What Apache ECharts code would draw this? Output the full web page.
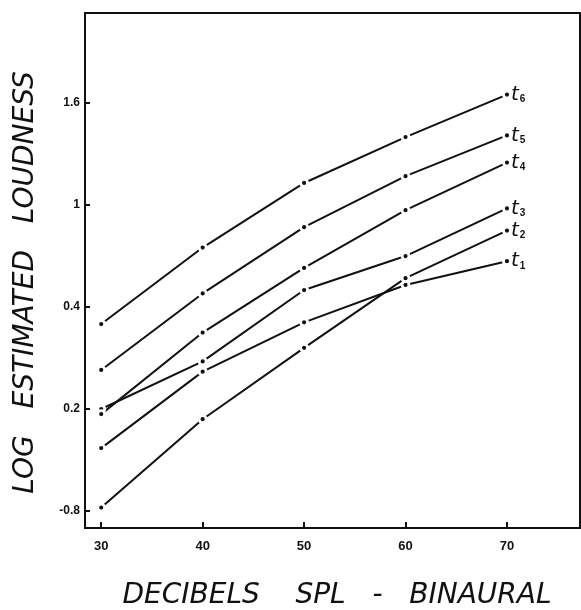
<!DOCTYPE html>
<html>
<head>
<meta charset="utf-8">
<script src="https://cdn.jsdelivr.net/npm/echarts@6/dist/echarts.min.js"></script>
<style>
  html, body { margin: 0; padding: 0; background: #fff; }
  #chart { width: 581px; height: 610px; }
</style>
</head>
<body>
<div id="chart"></div>
<script>
// sound level (dB SPL) on the x axis
const levels = [30, 40, 50, 60, 70];

// log estimated loudness, one curve per duration t1..t6
const t1 = [-0.43, 0.02, 0.31, 0.53, 0.67];
const t2 = [-0.78, -0.26, 0.16, 0.57, 0.85];
const t3 = [-0.20, 0.08, 0.50, 0.70, 0.98];
const t4 = [-0.23, 0.25, 0.63, 0.97, 1.25];
const t5 = [0.03, 0.48, 0.87, 1.17, 1.41];
const t6 = [0.30, 0.75, 1.13, 1.40, 1.65];

// tick positions and the labels printed next to them
const xTickValues = [30, 40, 50, 60, 70];
const yTickValues = [-0.8, -0.2, 0.4, 1.0, 1.6];
const yTickLabels = ['-0.8', '0.2', '0.4', '1', '1.6'];

const curves = [
  { name: 't1', values: t1 },
  { name: 't2', values: t2 },
  { name: 't3', values: t3 },
  { name: 't4', values: t4 },
  { name: 't5', values: t5 },
  { name: 't6', values: t6 }
];

const chart = echarts.init(document.getElementById('chart'), null, { renderer: 'canvas' });

const nameFont = {
  fontFamily: 'DejaVu Sans',
  fontStyle: 'italic',
  fontWeight: 200,
  fontSize: 28,
  color: '#111'
};

const makeSeries = (c) => ({
  name: c.name,
  type: 'line',
  data: c.values.map((v, i) => [levels[i], v]),
  symbol: 'circle',
  symbolSize: 7,
  lineStyle: { color: '#111', width: 2 },
  itemStyle: { color: '#111', borderColor: '#fff', borderWidth: 2.8 },
  emphasis: { disabled: true },
  endLabel: {
    show: true,
    distance: 4,
    formatter: '{t|t}{s|' + c.name.slice(1) + '}',
    rich: {
      t: { fontFamily: 'DejaVu Sans', fontStyle: 'italic', fontWeight: 200, fontSize: 20, color: '#111' },
      s: { fontFamily: 'Liberation Sans', fontWeight: 'bold', fontSize: 10, color: '#111', padding: [10, 0, 0, 1] }
    }
  }
});

chart.setOption({
  animation: false,
  backgroundColor: '#fff',
  grid: {
    left: 85,
    right: 1,
    top: 13,
    bottom: 82,
    show: true,
    borderColor: '#111',
    borderWidth: 2,
    outerBoundsMode: 'none'
  },
  xAxis: {
    type: 'value',
    min: 28.4,
    max: 77.2,
    name: 'DECIBELS    SPL   -   BINAURAL',
    nameLocation: 'middle',
    nameGap: 54,
    nameTextStyle: Object.assign({}, nameFont, { padding: [0, 0, 0, 9] }),
    axisLine: { show: true, onZero: false, lineStyle: { color: '#111', width: 2 } },
    axisTick: { show: true, inside: true, length: 6, customValues: xTickValues, lineStyle: { color: '#111', width: 2 } },
    axisLabel: {
      customValues: xTickValues,
      margin: 12,
      fontFamily: 'Liberation Sans',
      fontWeight: 'bold',
      fontSize: 13,
      color: '#111'
    },
    splitLine: { show: false }
  },
  yAxis: {
    type: 'value',
    min: -0.9,
    max: 2.13,
    name: 'LOG   ESTIMATED   LOUDNESS',
    nameLocation: 'middle',
    nameGap: 45,
    nameRotate: 90,
    nameTextStyle: Object.assign({}, nameFont, { padding: [0, 24, 0, 0] }),
    axisLine: { show: true, onZero: false, lineStyle: { color: '#111', width: 2 } },
    axisTick: { show: true, inside: true, length: 5, customValues: yTickValues, lineStyle: { color: '#111', width: 2 } },
    axisLabel: {
      customValues: yTickValues,
      margin: 5,
      fontFamily: 'Liberation Sans',
      fontWeight: 'bold',
      fontSize: 12,
      color: '#111',
      formatter: (v) => {
        const i = yTickValues.findIndex(t => Math.abs(t - v) < 1e-6);
        return i >= 0 ? yTickLabels[i] : '';
      }
    },
    splitLine: { show: false }
  },
  series: curves.map(makeSeries)
});
</script>
</body>
</html>
